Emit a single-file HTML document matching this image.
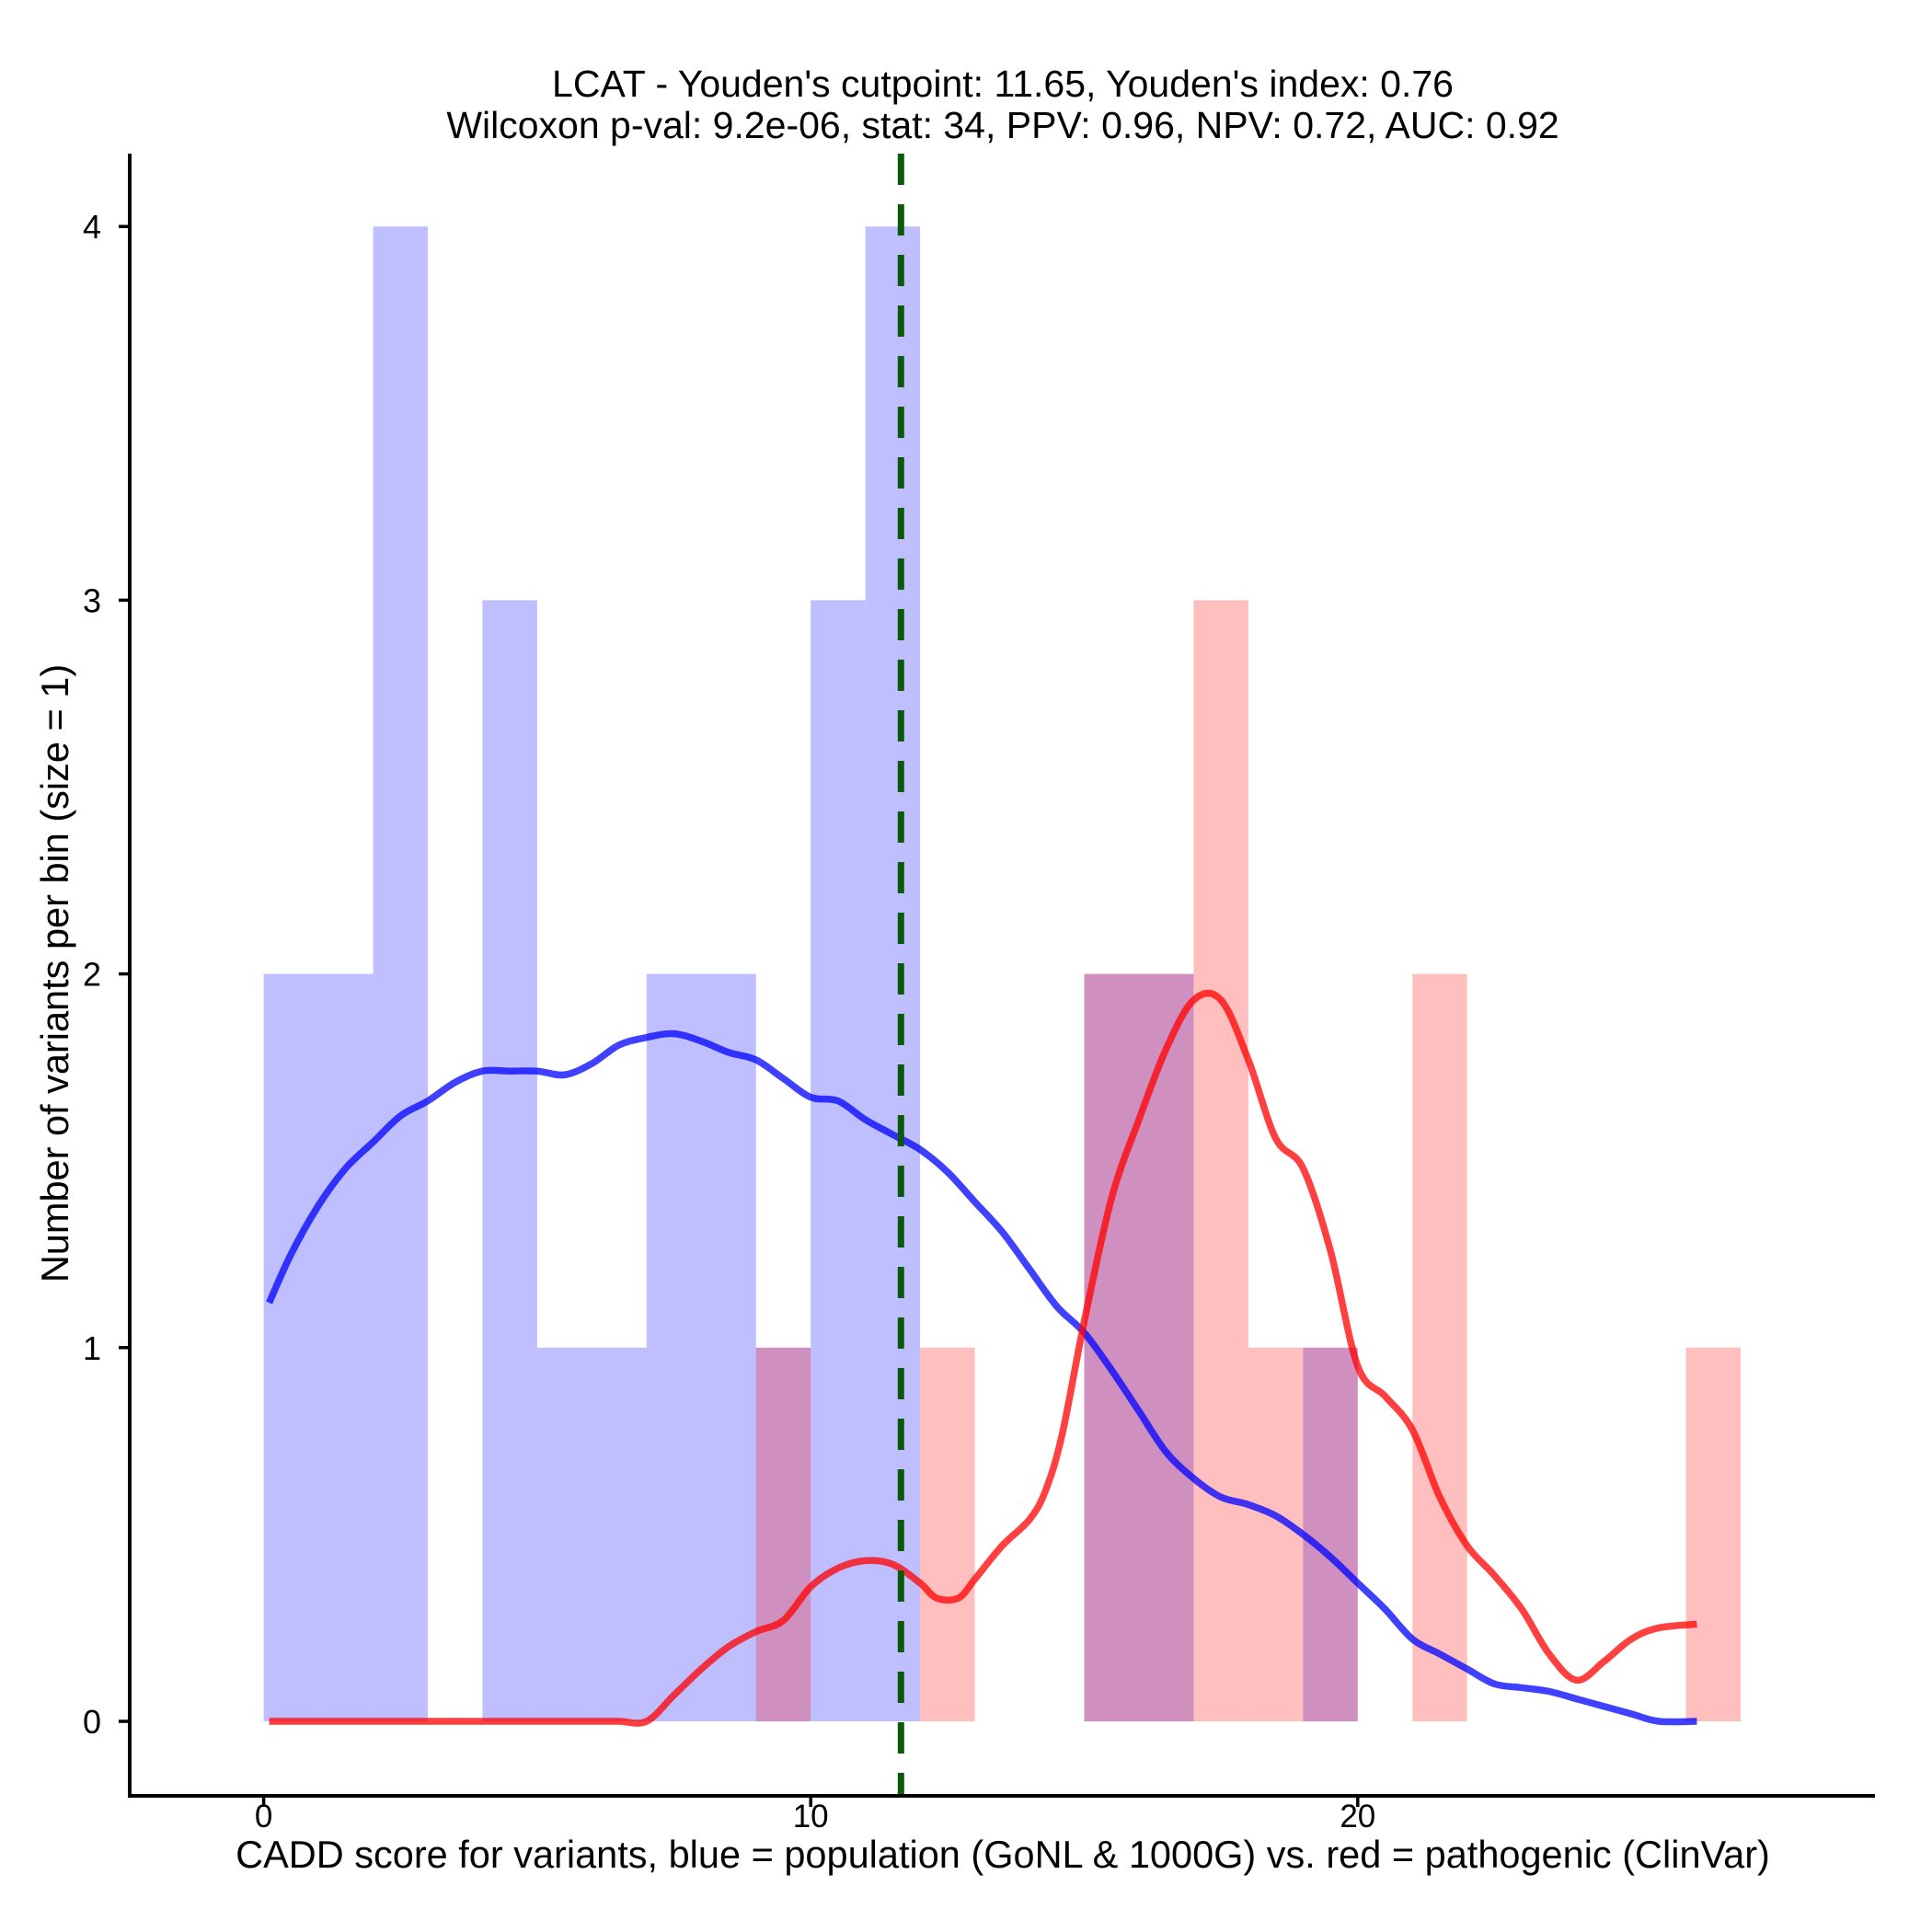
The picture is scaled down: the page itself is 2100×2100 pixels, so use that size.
<!DOCTYPE html>
<html><head><meta charset="utf-8"><style>body{margin:0;background:#fff}svg{display:block}text{font-family:"Liberation Sans",Arial,sans-serif;fill:#000}</style></head>
<body>
<svg id="chart" width="2100" height="2100" viewBox="0 0 2100 2100" xmlns="http://www.w3.org/2000/svg">
<g id="bars"></g>
<g id="curves"></g>
<g id="axes"></g>
<text x="1090" y="105" font-size="41" text-anchor="middle">LCAT - Youden's cutpoint: 11.65, Youden's index: 0.76</text>
<text x="1090" y="150" font-size="41" text-anchor="middle">Wilcoxon p-val: 9.2e-06, stat: 34, PPV: 0.96, NPV: 0.72, AUC: 0.92</text>
<text x="1090" y="2030" font-size="41.5" text-anchor="middle">CADD score for variants, blue = population (GoNL &amp; 1000G) vs. red = pathogenic (ClinVar)</text>
<text x="0" y="0" font-size="41.5" text-anchor="middle" transform="translate(74,1058) rotate(-90)">Number of variants per bin (size = 1)</text>
</svg>
<script>
const blueBins=[0,1,2,4,5,6,7,8,9,10,11,15,16,19];
const blueCounts=[2,2,4,3,1,1,2,2,1,3,4,2,2,1];
const redBins=[9,12,15,16,17,18,19,21,26];
const redCounts=[1,1,2,2,3,1,1,2,1];
const blueX=[0.1,0.5,1,1.5,2,2.5,3,3.5,4,4.5,5,5.5,6,6.5,7,7.5,8,8.5,9,9.5,10,10.5,11,11.5,12,12.5,13,13.5,14,14.5,15,15.5,16,16.5,17,17.5,18,18.5,19,19.5,20,20.5,21,21.5,22,22.5,23,23.5,24,24.5,25,25.5,26.2];
const blueY=[1.12,1.25,1.38,1.48,1.55,1.62,1.66,1.71,1.74,1.74,1.74,1.73,1.76,1.81,1.83,1.84,1.82,1.79,1.77,1.72,1.67,1.66,1.61,1.57,1.53,1.47,1.39,1.31,1.21,1.11,1.04,0.94,0.83,0.72,0.65,0.6,0.58,0.55,0.5,0.44,0.37,0.3,0.22,0.18,0.14,0.1,0.09,0.08,0.06,0.04,0.02,0,0];
const redX=[0.1,1,2,3,4,5,6,6.5,7,7.5,8,8.5,9,9.5,10,10.5,11,11.5,12,12.3,12.7,13,13.5,14,14.3,14.6,15,15.5,16,16.5,17,17.5,18,18.5,19,19.5,20,20.5,21,21.5,22,22.5,23,23.5,24,24.5,25,25.5,26.2];
const redY=[0,0,0,0,0,0,0,0,0,0.07,0.14,0.2,0.24,0.27,0.36,0.41,0.43,0.42,0.37,0.33,0.33,0.38,0.47,0.54,0.62,0.77,1.07,1.4,1.61,1.8,1.93,1.93,1.77,1.56,1.48,1.26,0.95,0.87,0.78,0.6,0.47,0.39,0.3,0.18,0.11,0.16,0.22,0.25,0.26];
const xTicks=[0,10,20];
const yTicks=[0,1,2,3,4];
const cutpoint=11.65;
const NS="http://www.w3.org/2000/svg";
const sx=v=>286.6+v*59.46;
const sy=v=>1871-v*406.2;
function mk(tag,attrs,parent){const e=document.createElementNS(NS,tag);for(const k in attrs)e.setAttribute(k,attrs[k]);parent.appendChild(e);return e;}
function smooth(xs,ys){const p=xs.map((x,i)=>[sx(x),sy(ys[i])]);let d='M'+p[0][0]+','+p[0][1];
for(let i=0;i<p.length-1;i++){const p0=p[Math.max(i-1,0)],p1=p[i],p2=p[i+1],p3=p[Math.min(i+2,p.length-1)];
const c1=[p1[0]+(p2[0]-p0[0])/6,p1[1]+(p2[1]-p0[1])/6],c2=[p2[0]-(p3[0]-p1[0])/6,p2[1]-(p3[1]-p1[1])/6];
d+=' C'+c1[0]+','+c1[1]+' '+c2[0]+','+c2[1]+' '+p2[0]+','+p2[1];}return d;}
const bars=document.getElementById('bars');
blueBins.forEach((b,i)=>{const r=mk('rect',{x:sx(b),y:sy(blueCounts[i]),width:sx(b+1)-sx(b),height:sy(0)-sy(blueCounts[i]),fill:'rgba(0,0,255,0.25)'},bars);

});
redBins.forEach((b,i)=>{const r=mk('rect',{x:sx(b),y:sy(redCounts[i]),width:sx(b+1)-sx(b),height:sy(0)-sy(redCounts[i]),fill:'rgba(255,0,0,0.25)'},bars);

});
const curves=document.getElementById('curves');
const bl=mk('path',{d:smooth(blueX,blueY),fill:'none',stroke:'rgba(0,0,255,0.75)','stroke-width':7.5,'stroke-linejoin':'round'},curves);


const rl=mk('path',{d:smooth(redX,redY),fill:'none',stroke:'rgba(255,0,0,0.75)','stroke-width':7.5,'stroke-linejoin':'round'},curves);


const cl=mk('line',{x1:sx(cutpoint),x2:sx(cutpoint),y1:167,y2:1951,stroke:'#0b5a0b','stroke-width':7,'stroke-dasharray':'34,21'},curves);


const axes=document.getElementById('axes');
const ya=mk('line',{x1:141,x2:141,y1:167,y2:1954,stroke:'#000','stroke-width':4},axes);


const xa=mk('line',{x1:139,x2:2038,y1:1952,y2:1952,stroke:'#000','stroke-width':4},axes);


xTicks.forEach(t=>{const l=mk('line',{x1:sx(t),x2:sx(t),y1:1952,y2:1964,stroke:'#000','stroke-width':3.5},axes);


const tx=mk('text',{x:sx(t),y:1986,'font-size':35,'text-anchor':'middle'},axes);tx.textContent=t;

});
yTicks.forEach(t=>{const l=mk('line',{x1:129,x2:141,y1:sy(t),y2:sy(t),stroke:'#000','stroke-width':3.5},axes);


const tx=mk('text',{x:110,y:sy(t)+13,'font-size':36,'text-anchor':'end'},axes);tx.textContent=t;

});
</script>
</body></html>
